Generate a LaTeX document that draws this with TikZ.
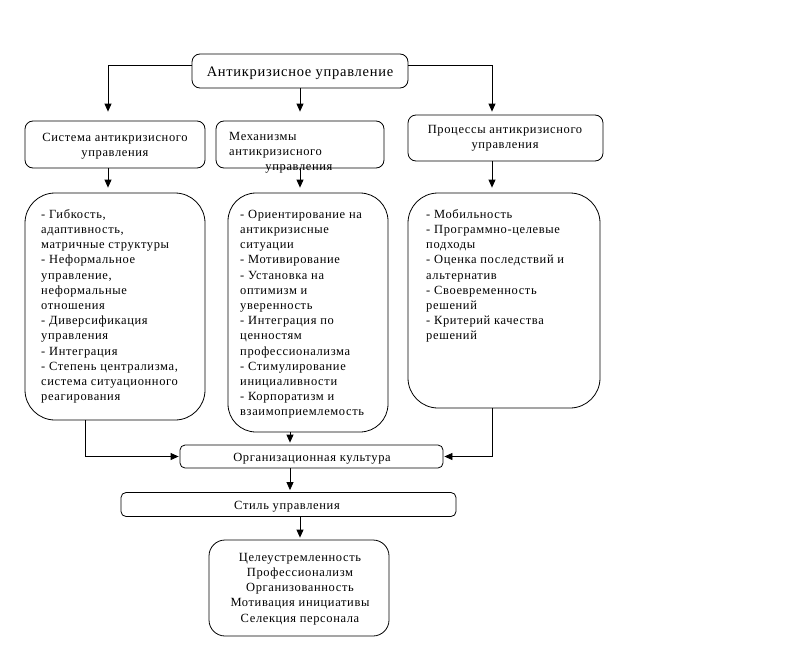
\documentclass[tikz,border=0pt]{standalone}
\usepackage{fontspec}
\setmainfont{Liberation Serif}[LetterSpace=5]
\usetikzlibrary{arrows.meta}
\newcommand{\firststrut}{\rule{0pt}{10pt}}
\begin{document}
\begin{tikzpicture}[x=1pt,y=-1pt,
  rbox/.style={draw, line width=0.8pt, rounded corners=#1, inner sep=0pt},
  txt/.style={inner sep=0pt, font=\fontsize{12.5}{15.2}\selectfont},
  arr/.style={draw, line width=0.8pt, -{Triangle[length=8pt,width=7pt]}}]
\useasboundingbox (0,0) rectangle (794,661);
% boxes
\node[rbox=8pt, minimum width=216, minimum height=34] (top) at (300,71) {};
\node[rbox=8pt, minimum width=180, minimum height=47] (ls) at (115,144.5) {};
\node[rbox=8pt, minimum width=168, minimum height=47] (ms) at (300,144.5) {};
\node[rbox=8pt, minimum width=195, minimum height=46] (rs) at (505.5,138) {};
\node[rbox=30pt, minimum width=180, minimum height=227] (lb) at (115,306.5) {};
\node[rbox=28pt, minimum width=160, minimum height=239] (mb) at (308,312.5) {};
\node[rbox=30pt, minimum width=192, minimum height=215] (rb) at (504,300.5) {};
\node[rbox=5pt, minimum width=263, minimum height=23] (org) at (311.5,456.5) {};
\node[rbox=5pt, minimum width=335, minimum height=24] (sty) at (288.5,504.5) {};
\node[rbox=16pt, minimum width=180, minimum height=96] (bot) at (299,588) {};
% texts
\node[txt, anchor=base, font=\fontsize{14.5}{17}\selectfont] (ttop) at (300,76) {Антикризисное управление};
\node[txt, anchor=north, align=center] (tls) at (115,131) {\firststrut Система антикризисного\\управления};
\node[txt, anchor=north west, align=left] (tms) at (229,130) {\firststrut Механизмы\\антикризисного};
\node[txt, anchor=base] (tms2) at (299,170) {управления};
\node[txt, anchor=north, align=center] (trs) at (505,123) {\firststrut Процессы антикризисного\\управления};
\node[txt, anchor=north west, align=left] (tlb) at (41,208) {\firststrut - Гибкость,\\адаптивность,\\матричные структуры\\- Неформальное\\управление,\\неформальные\\отношения\\- Диверсификация\\управления\\- Интеграция\\- Степень централизма,\\система ситуационного\\реагирования};
\node[txt, anchor=north west, align=left] (tmb) at (240,208) {\firststrut - Ориентирование на\\антикризисные\\ситуации\\- Мотивирование\\- Установка на\\оптимизм и\\уверенность\\- Интеграция по\\ценностям\\профессионализма\\- Стимулирование\\инициаливности\\- Корпоратизм и\\взаимоприемлемость};
\node[txt, anchor=north west, align=left] (trb) at (426,208) {\firststrut - Мобильность\\- Программно-целевые\\подходы\\- Оценка последствий и\\альтернатив\\- Своевременность\\решений\\- Критерий качества\\решений};
\node[txt, anchor=base] (torg) at (312,461) {Организационная культура};
\node[txt, anchor=base] (tsty) at (287,509.5) {Стиль управления};
\node[txt, anchor=north, align=center] (tbot) at (300,551) {\firststrut Целеустремленность\\Профессионализм\\Организованность\\Мотивация инициативы\\Селекция персонала};
% connectors
\draw[arr, shorten >=9pt] ([yshift=5.5pt]top.west) -| ([xshift=-7pt]ls.north);
\draw[arr, shorten >=9pt] (top.south) -- (ms.north);
\draw[arr, shorten >=3pt] ([yshift=5.5pt]top.east) -| ([xshift=-13.5pt]rs.north);
\coordinate (c1) at ([xshift=-7pt]ls.south);
\coordinate (c2) at (ms.south);
\coordinate (c3) at ([xshift=-13.5pt]rs.south);
\draw[arr, shorten >=5pt] (c1) -- (c1 |- lb.north);
\draw[arr, shorten >=5pt] (c2) -- (c2 |- mb.north);
\draw[arr, shorten >=5pt] (c3) -- (c3 |- rb.north);
\coordinate (c4) at ([xshift=-30pt]lb.south);
\coordinate (c5) at ([xshift=-18pt]mb.south);
\coordinate (c6) at ([xshift=-12pt]rb.south);
\draw[arr, shorten >=1pt] (c4) |- (org.west);
\draw[arr, shorten >=2pt] (c5) -- (c5 |- org.north);
\draw[arr, shorten >=1pt] (c6) |- (org.east);
\coordinate (c7) at ([xshift=-21.5pt]org.south);
\coordinate (c8) at ([xshift=11.5pt]sty.south);
\draw[arr, shorten >=2pt] (c7) -- (c7 |- sty.north);
\draw[arr, shorten >=2pt] (c8) -- (c8 |- bot.north);
\end{tikzpicture}
\end{document}
